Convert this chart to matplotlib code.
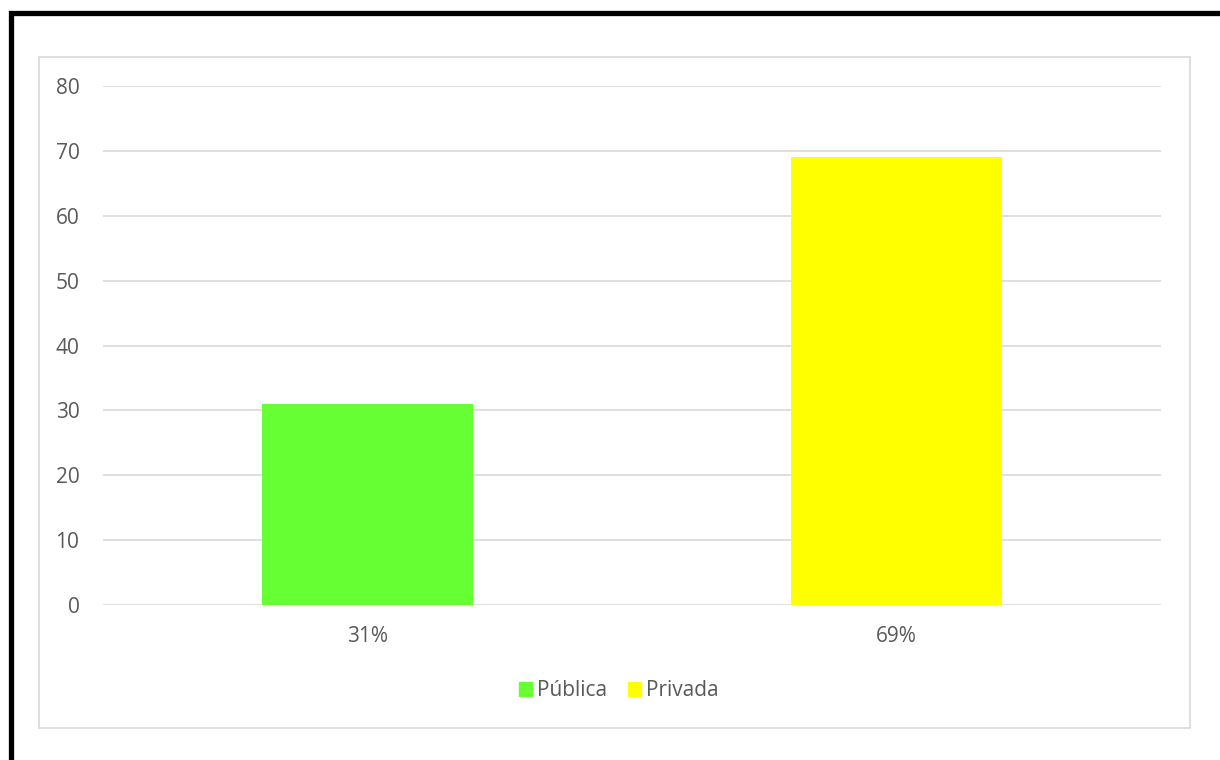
import matplotlib.pyplot as plt
from matplotlib.patches import Rectangle, Patch

categorias = ['31%', '69%']
series = ['Pública', 'Privada']
valores = [31, 69]
colores = ['#66FF33', '#FFFF00']
yticks = [0, 10, 20, 30, 40, 50, 60, 70, 80]

W, H = 1220, 760
fig = plt.figure(figsize=(W / 100, H / 100), dpi=100)
plt.rcParams['font.family'] = ['Open Sans', 'DejaVu Sans']

# marco negro exterior y borde gris del area del grafico
fig.patches.append(Rectangle((10.5 / W, -0.1), 1.2, 1 - 12.5 / H + 0.1,
                             transform=fig.transFigure, fill=False,
                             edgecolor='black', linewidth=3.8))
fig.patches.append(Rectangle((38.5 / W, 1 - 727.5 / H), (1190 - 38.5) / W,
                             (727.5 - 56.5) / H, transform=fig.transFigure,
                             fill=False, edgecolor='#D9D9D9', linewidth=1.2))

ax = fig.add_axes([103 / W, 1 - 605 / H, (1161 - 103) / W, (605 - 86) / H])
x = range(len(categorias))
ax.bar(x, valores, width=0.4, color=colores, zorder=3)

ax.set_xlim(-0.5, 1.5)
ax.set_ylim(0, 80)
ax.set_yticks(yticks)
ax.set_xticks(list(x))
ax.set_xticklabels(categorias)
ax.grid(axis='y', color='#D9D9D9', linewidth=1.2, zorder=0)
ax.tick_params(axis='y', length=0, pad=17, labelsize=15, labelcolor='#595959')
ax.tick_params(axis='x', length=0, pad=15, labelsize=15, labelcolor='#595959')
for s in ax.spines.values():
    s.set_visible(False)

handles = [Patch(color=c, label=s) for c, s in zip(colores, series)]
fig.legend(handles=handles, loc='center', bbox_to_anchor=(619 / W, 1 - 691 / H),
           ncol=2, frameon=False, fontsize=15, labelcolor='#595959',
           handlelength=0.62, handleheight=0.62, handletextpad=0.25,
           columnspacing=1.0)

fig.savefig('out.png', dpi=100)
